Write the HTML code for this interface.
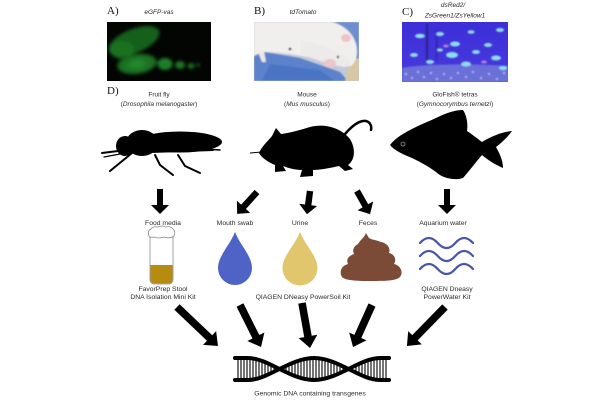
<!DOCTYPE html>
<html><head><meta charset="utf-8">
<style>
html,body{margin:0;padding:0;background:#fff;}
svg{display:block;}
text{font-family:"Liberation Sans",sans-serif;fill:#2a2a2a;}
</style></head>
<body>
<svg width="600" height="400" viewBox="0 0 600 400" xmlns="http://www.w3.org/2000/svg">
<defs>
<clipPath id="cA"><rect x="107" y="22" width="104" height="59"/></clipPath>
<clipPath id="cB"><rect x="254" y="22" width="105" height="59"/></clipPath>
<clipPath id="cC"><rect x="402" y="22" width="106" height="60"/></clipPath>
<clipPath id="dnaClip"><path d="M235,358 L248,358 C268,358 290,380 314,380 C338,380 360,358 380,358 L390,358 L390,380 L380,380 C360,380 338,358 314,358 C290,358 268,380 248,380 L235,380 Z"/></clipPath>
<filter id="bl" x="-10%" y="-10%" width="120%" height="120%"><feGaussianBlur stdDeviation="1.6"/></filter>
<filter id="bl2"><feGaussianBlur stdDeviation="0.7"/></filter>
<radialGradient id="gg" cx="50%" cy="50%" r="50%"><stop offset="0" stop-color="#26922f"/><stop offset="1" stop-color="#17601d"/></radialGradient>
<linearGradient id="fishbg" x1="0" y1="0" x2="0" y2="1"><stop offset="0" stop-color="#3d2fd8"/><stop offset="0.7" stop-color="#4536dc"/><stop offset="1" stop-color="#5a58d8"/></linearGradient>
</defs>

<!-- Header labels -->
<text x="107" y="14" style="font-family:'Liberation Serif',serif;font-size:11px;fill:#111">A)</text>
<text x="159" y="14" text-anchor="middle" font-size="6.5" font-style="italic">eGFP-vas</text>
<text x="254" y="14" style="font-family:'Liberation Serif',serif;font-size:11px;fill:#111">B)</text>
<text x="303" y="14" text-anchor="middle" font-size="6.5" font-style="italic">tdTomato</text>
<text x="402" y="15" style="font-family:'Liberation Serif',serif;font-size:11px;fill:#111">C)</text>
<text x="453" y="7" text-anchor="middle" font-size="6.5" font-style="italic">dsRed2/</text>
<text x="455" y="17.5" text-anchor="middle" font-size="6.5" font-style="italic">ZsGreen1/ZsYellow1</text>

<!-- Photo A -->
<g clip-path="url(#cA)">
<rect x="107" y="22" width="104" height="59" fill="#030503"/>
<g filter="url(#bl)">
<ellipse cx="134" cy="41" rx="27" ry="12" transform="rotate(-22 134 41)" fill="#186a1f" opacity="0.9"/>
<ellipse cx="122" cy="50" rx="12" ry="9" fill="#1b7523" opacity="0.8"/>
<ellipse cx="137" cy="64" rx="20" ry="10" transform="rotate(-8 137 64)" fill="url(#gg)"/>
<ellipse cx="165" cy="64" rx="7.5" ry="6" fill="#1f7f27"/>
<ellipse cx="180" cy="65" rx="5" ry="4" fill="#1b7423"/>
<ellipse cx="191" cy="66" rx="3.5" ry="3" fill="#186a1f"/>
<ellipse cx="198" cy="65" rx="2" ry="1.8" fill="#145a1a"/>
</g>
</g>

<!-- Photo B -->
<g clip-path="url(#cB)">
<rect x="254" y="22" width="105" height="59" fill="#c3c9d6"/>
<g filter="url(#bl2)">
<path d="M322,22 L359,22 L359,60 L335,45 Z" fill="#6d8fcf"/>
<path d="M254,50 L300,58 L340,72 L348,81 L254,81 Z" fill="#5b82cc"/>
<path d="M270,64 L320,70 L335,81 L262,81 Z" fill="#4c74c4"/>
<path d="M350,62 L359,58 L359,81 L345,81 Z" fill="#d8c7a4"/>
<path d="M254,22 L332,22 C346,26 353,34 356,44 C358,52 357,62 351,66 C340,68 325,62 312,58 C295,54 275,52 262,52 L254,56 Z" fill="#f1efee"/>
<path d="M300,40 C315,42 335,48 348,58 C352,62 350,67 344,67 C332,65 315,60 300,54 Z" fill="#eceaea"/>
<ellipse cx="346" cy="38" rx="5" ry="4" fill="#f2c3c6"/>
<ellipse cx="330" cy="63" rx="6" ry="4" fill="#efc6c8"/>
<circle cx="338" cy="57" r="1.2" fill="#333"/>
<circle cx="290" cy="49" r="1.4" fill="#333"/>
<path d="M258,52 L262,62 L266,62 L264,51 Z" fill="#efe7e4"/>
</g>
</g>

<!-- Photo C -->
<g clip-path="url(#cC)">
<rect x="402" y="22" width="106" height="60" fill="url(#fishbg)"/>
<g filter="url(#bl2)">
<rect x="426" y="24" width="2" height="40" fill="#1d1a6a" opacity="0.7"/>
<rect x="436" y="30" width="1.5" height="30" fill="#25228a" opacity="0.6"/>
<path d="M402,68 Q440,62 508,66 L508,82 L402,82 Z" fill="#6a70d8"/>
<g fill="#d8e4ff" opacity="0.7">
<circle cx="406" cy="74" r="1"/><circle cx="412" cy="78" r="1"/><circle cx="418" cy="72" r="1"/><circle cx="424" cy="77" r="1"/><circle cx="431" cy="73" r="1"/><circle cx="437" cy="79" r="1"/><circle cx="444" cy="74" r="1"/><circle cx="451" cy="78" r="1"/><circle cx="458" cy="73" r="1"/><circle cx="466" cy="77" r="1"/><circle cx="473" cy="72" r="1"/><circle cx="481" cy="78" r="1"/><circle cx="489" cy="74" r="1"/><circle cx="497" cy="79" r="1"/><circle cx="504" cy="73" r="1"/>
</g>
<g fill="#8cdcf2">
<ellipse cx="420" cy="36" rx="5" ry="2.2"/><ellipse cx="440" cy="34" rx="4" ry="2"/><ellipse cx="471" cy="32" rx="3.5" ry="1.8"/><ellipse cx="500" cy="30" rx="4" ry="2"/>
<ellipse cx="455" cy="44" rx="5" ry="2.5"/><ellipse cx="488" cy="45" rx="4" ry="2"/><ellipse cx="414" cy="55" rx="4" ry="2"/>
<ellipse cx="452" cy="55" rx="6" ry="3"/><ellipse cx="476" cy="52" rx="4" ry="2"/><ellipse cx="496" cy="58" rx="5" ry="2.5"/>
<ellipse cx="430" cy="62" rx="4" ry="2"/><ellipse cx="466" cy="64" rx="5" ry="2.5"/><ellipse cx="503" cy="68" rx="4" ry="2"/>
<ellipse cx="440" cy="50" rx="3" ry="1.6"/>
</g>
<g fill="#d890d8" opacity="0.8"><ellipse cx="446" cy="46" rx="3" ry="1.5"/><ellipse cx="484" cy="62" rx="3" ry="1.5"/></g>
</g>
</g>

<!-- D labels -->
<text x="107" y="94" style="font-family:'Liberation Serif',serif;font-size:11px;fill:#111">D)</text>
<text x="159" y="96.5" text-anchor="middle" font-size="6.5">Fruit fly</text>
<text x="159" y="106" text-anchor="middle" font-size="6.5">(<tspan font-style="italic">Drosophila melanogaster</tspan>)</text>
<text x="307" y="96.5" text-anchor="middle" font-size="6.5">Mouse</text>
<text x="307" y="106" text-anchor="middle" font-size="6.5">(<tspan font-style="italic">Mus musculus</tspan>)</text>
<text x="455" y="96.5" text-anchor="middle" font-size="6.5">GloFish® tetras</text>
<text x="455" y="106" text-anchor="middle" font-size="6.5">(<tspan font-style="italic">Gymnocorymbus ternetzi</tspan>)</text>

<!-- Fly -->
<g fill="#000" stroke="#000">
<ellipse cx="180" cy="142" rx="42" ry="10.5" stroke="none"/>
<ellipse cx="142" cy="143" rx="16" ry="13" stroke="none"/>
<ellipse cx="125" cy="146" rx="9" ry="10" stroke="none"/>
<path d="M150,140 L210,146 L214,151 L150,153 Z" stroke="none"/>
<g fill="none" stroke-width="2" stroke-linecap="round">
<path d="M132,153 L121,162 L110,171"/>
<path d="M155,155 L160,165 L173,175"/>
<path d="M178,155 L185,166 L200,173"/>
<path d="M118,151 L102,153"/>
<path d="M120,154 L104,157" stroke-width="1.2"/>
<path d="M205,149 L220,150" stroke-width="1.5"/>
</g>
</g>

<!-- Mouse -->
<g fill="#000">
<path d="M259,153 C262,146 268,141 272,136 L276,128 L281,134 C290,133 300,130 310,127 C325,123 341,128 350,139 C356,149 355,160 348,165 L353,169 L345,171 L339,166 C330,168 320,170 313,170 L313,176 L300,177 L302,170 C295,170 288,168 283,166 L286,171 L275,172 L275,165 C268,162 262,158 259,153 Z"/>
<path d="M345,134 C352,126 359,120 366,121 C370,122 372,126 371,130" fill="none" stroke="#000" stroke-width="2.5" stroke-linecap="round"/>
<path d="M250,153 L262,152" stroke="#000" stroke-width="1" fill="none"/>
</g>

<!-- Fish -->
<g fill="#000">
<path d="M390,145 C398,134 418,126 436,118 C446,113 455,110 463,110 C467,116 468,124 467,131 C473,135 478,139 482,142 C492,136 502,132 512,131 C507,138 500,144 496,147 C500,154 503,161 503,168 C494,164 488,160 482,155 C476,162 470,170 463,178 C455,181 442,178 436,172 C428,166 420,162 412,158 C402,154 394,150 390,145 Z"/>
<circle cx="403" cy="144" r="2" fill="none" stroke="#ddd" stroke-width="0.6"/>
</g>

<!-- Top arrows -->
<g fill="#000">
<path transform="translate(160,189) rotate(90)" d="M0,-3 L16,-3 L16,-9 L25,0 L16,9 L16,3 L0,3 Z"/>
<path transform="translate(257,192) rotate(132.3)" d="M0,-3.2 L20,-3.2 L20,-9 L29.5,0 L20,9 L20,3.2 L0,3.2 Z"/>
<path transform="translate(310,191) rotate(97.4)" d="M0,-3.2 L14,-3.2 L14,-9 L23.5,0 L14,9 L14,3.2 L0,3.2 Z"/>
<path transform="translate(357,191) rotate(60.5)" d="M0,-3.2 L17,-3.2 L17,-9 L26.5,0 L17,9 L17,3.2 L0,3.2 Z"/>
<path transform="translate(447,189) rotate(90)" d="M0,-3 L16,-3 L16,-9 L25,0 L16,9 L16,3 L0,3 Z"/>
</g>

<!-- Sample labels -->
<text x="163" y="225" text-anchor="middle" font-size="6.8">Food media</text>
<text x="235" y="225" text-anchor="middle" font-size="6.8">Mouth swab</text>
<text x="300" y="225" text-anchor="middle" font-size="6.8">Urine</text>
<text x="368" y="225" text-anchor="middle" font-size="6.8">Feces</text>
<text x="443" y="225" text-anchor="middle" font-size="6.8">Aquarium water</text>

<!-- Tube -->
<path d="M150,234 L150,279 Q150,284 155,284 L168,284 Q173,284 173,279 L173,234" fill="#fff" stroke="#8a8a8a" stroke-width="0.8"/>
<path d="M150.5,265 L172.5,265 L172.5,279 Q172.5,283.5 168,283.5 L155,283.5 Q150.5,283.5 150.5,279 Z" fill="#b58b10"/>
<path d="M149,236 Q147,231 151,229 Q153,226 158,227 Q162,225 166,227 Q171,226 173,229 Q176,232 174,236 Q170,239 164,237 Q158,239 154,237 Q150,238 149,236 Z" fill="#fff" stroke="#8a8a8a" stroke-width="0.8"/>

<!-- Drops -->
<path d="M235,232 C240,245 252,256 252,268 A17,17 0 0 1 218,268 C218,256 230,245 235,232 Z" fill="#4f62c6"/>
<path d="M300,232 C305,245 317.5,256 317.5,268 A17.5,17.5 0 0 1 282.5,268 C282.5,256 295,245 300,232 Z" fill="#e1c66e"/>

<!-- Feces -->
<g fill="#7b4b37">
<path d="M366,233 C364,238 360,240 358,244 C354,246 352,250 354,254 C348,256 346,260 348,264 C341,266 339,272 342,277 C346,281 360,281 371,281 C384,281 396,281 400,277 C404,272 400,265 394,264 C397,259 394,254 389,253 C391,248 387,243 381,242 C377,240 372,240 369,238 Z"/>
</g>

<!-- Waves -->
<g fill="none" stroke="#4b55a8" stroke-width="2.2" stroke-linecap="round">
<path d="M420,243 Q428.8,233 437.7,243 T455.3,243 T473,243"/>
<path d="M420,256 Q428.8,246 437.7,256 T455.3,256 T473,256"/>
<path d="M420,269 Q428.8,259 437.7,269 T455.3,269 T473,269"/>
</g>

<!-- Kit labels -->
<text x="163" y="291" text-anchor="middle" font-size="6.8">FavorPrep Stool</text>
<text x="163" y="299" text-anchor="middle" font-size="6.8">DNA Isolation Mini Kit</text>
<text x="303" y="299" text-anchor="middle" font-size="6.8">QIAGEN DNeasy PowerSoil Kit</text>
<text x="447" y="291" text-anchor="middle" font-size="6.8">QIAGEN Dneasy</text>
<text x="447" y="299" text-anchor="middle" font-size="6.8">PowerWater Kit</text>

<!-- Bottom arrows -->
<g fill="#000">
<path transform="translate(177,307) rotate(43.6)" d="M0,-3.8 L45,-3.8 L45,-9.5 L56.6,0 L45,9.5 L45,3.8 L0,3.8 Z"/>
<path transform="translate(240,305) rotate(63.4)" d="M0,-3.8 L35.5,-3.8 L35.5,-9.5 L47,0 L35.5,9.5 L35.5,3.8 L0,3.8 Z"/>
<path transform="translate(302,303) rotate(79.9)" d="M0,-3.8 L34,-3.8 L34,-9.5 L45.7,0 L34,9.5 L34,3.8 L0,3.8 Z"/>
<path transform="translate(372,305) rotate(114.3)" d="M0,-3.8 L34.5,-3.8 L34.5,-9.5 L46.1,0 L34.5,9.5 L34.5,3.8 L0,3.8 Z"/>
<path transform="translate(445,307) rotate(134.3)" d="M0,-3.8 L43,-3.8 L43,-9.5 L54.5,0 L43,9.5 L43,3.8 L0,3.8 Z"/>
</g>

<!-- DNA -->
<g clip-path="url(#dnaClip)" stroke="#000" stroke-width="1.1">
<path d="M238,356V382M241,356V382M244,356V382M247,356V382M250,356V382M253,356V382M256,356V382M259,356V382M262,356V382M265,356V382M268,356V382M271,356V382M274,356V382M283,356V382M286,356V382M289,356V382M292,356V382M295,356V382M298,356V382M301,356V382M304,356V382M307,356V382M310,356V382M313,356V382M316,356V382M319,356V382M322,356V382M325,356V382M328,356V382M331,356V382M334,356V382M337,356V382M340,356V382M343,356V382M346,356V382M356,356V382M359,356V382M362,356V382M365,356V382M368,356V382M371,356V382M374,356V382M377,356V382M380,356V382M383,356V382M386,356V382"/>
</g>
<g fill="none" stroke="#000" stroke-width="4" stroke-linecap="round">
<path d="M235,358 L248,358 C268,358 290,380 314,380 C338,380 360,358 380,358 L389,358"/>
<path d="M235,380 L248,380 C268,380 290,358 314,358 C338,358 360,380 380,380 L389,380"/>
</g>
<text x="310" y="395.5" text-anchor="middle" font-size="6.8">Genomic DNA containing transgenes</text>
</svg>
</body></html>
